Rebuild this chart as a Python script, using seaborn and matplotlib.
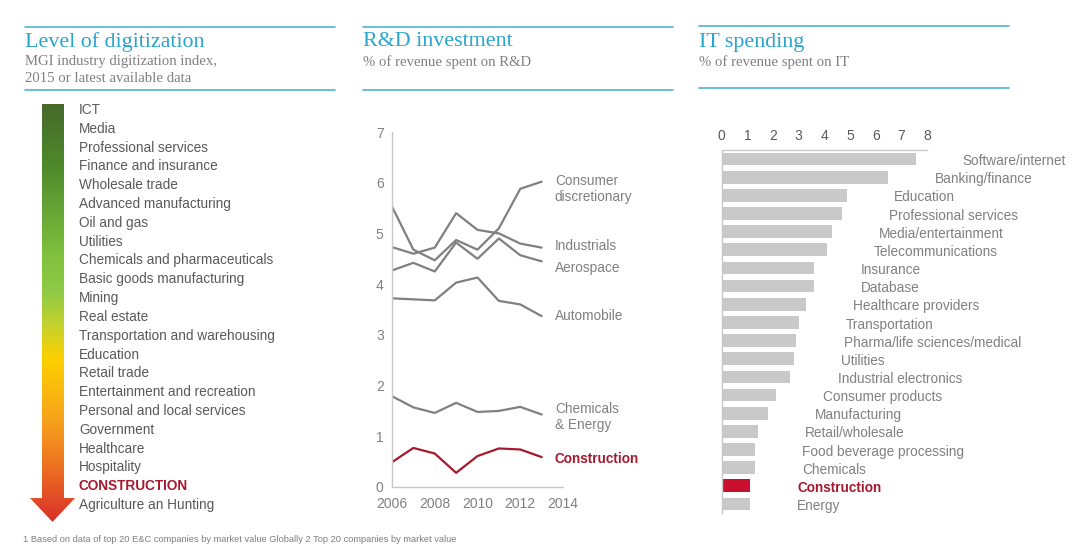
import numpy as np
import pandas as pd
import seaborn as sns
import matplotlib.pyplot as plt
from matplotlib.colors import LinearSegmentedColormap
from matplotlib.patches import Polygon
from matplotlib.lines import Line2D

# --- data ---
industries = ["ICT", "Media", "Professional services", "Finance and insurance",
              "Wholesale trade", "Advanced manufacturing", "Oil and gas", "Utilities",
              "Chemicals and pharmaceuticals", "Basic goods manufacturing", "Mining",
              "Real estate", "Transportation and warehousing", "Education", "Retail trade",
              "Entertainment and recreation", "Personal and local services", "Government",
              "Healthcare", "Hospitality", "CONSTRUCTION", "Agriculture an Hunting"]

years = [2006, 2007, 2008, 2009, 2010, 2011, 2012, 2013]
consumer = [5.53, 4.68, 4.47, 4.87, 4.68, 5.10, 5.88, 6.02]
industrials = [4.73, 4.60, 4.72, 5.40, 5.07, 5.00, 4.80, 4.72]
aerospace = [4.27, 4.42, 4.25, 4.82, 4.50, 4.90, 4.57, 4.45]
automobile = [3.72, 3.70, 3.68, 4.03, 4.13, 3.67, 3.60, 3.37]
chem_energy = [1.79, 1.57, 1.46, 1.66, 1.48, 1.50, 1.58, 1.43]
construction = [0.49, 0.77, 0.66, 0.28, 0.61, 0.76, 0.74, 0.59]
rd_names = ["Consumer\ndiscretionary", "Industrials", "Aerospace", "Automobile",
            "Chemicals\n& Energy", "Construction"]

it_sectors = ["Software/internet", "Banking/finance", "Education", "Professional services",
              "Media/entertainment", "Telecommunications", "Insurance", "Database",
              "Healthcare providers", "Transportation", "Pharma/life sciences/medical",
              "Utilities", "Industrial electronics", "Consumer products", "Manufacturing",
              "Retail/wholesale", "Food beverage processing", "Chemicals", "Construction",
              "Energy"]
it_values = [7.56, 6.47, 4.88, 4.67, 4.29, 4.10, 3.59, 3.58, 3.29, 3.00, 2.91, 2.80,
             2.68, 2.10, 1.80, 1.40, 1.30, 1.30, 1.10, 1.10]

# --- style ---
sns.set_theme(style="white")
plt.rcParams['font.family'] = ['Liberation Sans', 'DejaVu Sans']
GREY_TXT = "#595959"
GREY_LINE = "#808080"
RED = "#a6192e"
BLUE = "#2aa6cc"
RULE = "#4db3d3"
SERIF = ['Liberation Serif', 'DejaVu Serif']

W, H = 1080, 548
fig = plt.figure(figsize=(W / 100, H / 100), dpi=100)


def px_axes(x0, y0, x1, y1):
    return fig.add_axes([x0 / W, 1 - y1 / H, (x1 - x0) / W, (y1 - y0) / H])


def header(x0, x1, y_top, y_bot, title, subtitle):
    for y in (y_top, y_bot):
        fig.add_artist(Line2D([x0 / W, x1 / W], [1 - y / H, 1 - y / H],
                              color=RULE, lw=1.2, transform=fig.transFigure))
    fig.text(x0 / W, 1 - 42 / H, title, family=SERIF, fontsize=15.8, color=BLUE,
             va='center')
    fig.text(x0 / W, 1 - 55 / H, subtitle, family=SERIF, fontsize=10.6, color="#808080",
             va='top', linespacing=1.45)


header(25, 335, 27, 90, "Level of digitization",
       "MGI industry digitization index,\n2015 or latest available data")
header(363, 673, 27, 90, "R&D investment", "% of revenue spent on R&D")
header(699, 1009, 26, 88, "IT spending", "% of revenue spent on IT")

# --- left panel: gradient arrow + ranking ---
ax0 = px_axes(20, 95, 340, 530)
step = 18.81
ylim = ((530 - 110) / step, (95 - 110) / step)
cmap = LinearSegmentedColormap.from_list("dig", [
    (0.0, "#46692a"), (0.15, "#4f8a2c"), (0.35, "#7dbf3d"), (0.45, "#8fcb45"),
    (0.53, "#c5d22c"), (0.61, "#fdd000"), (0.75, "#f7a51c"), (0.87, "#ee7022"),
    (1.0, "#d8302a")])
top_i, neck_i, tip_i = -0.32, 20.63, 21.9
im = ax0.imshow(np.linspace(0, 1, 256).reshape(-1, 1), cmap=cmap, aspect='auto',
                extent=(30, 75, tip_i, top_i), origin='upper')
arrow = Polygon([(42, top_i), (64, top_i), (64, neck_i), (75, neck_i), (52.5, tip_i),
                 (30, neck_i), (42, neck_i)], closed=True, transform=ax0.transData)
im.set_clip_path(arrow)
ax0.set_xlim(20, 340)
ax0.set_ylim(*ylim)
ax0.axis('off')
for i, name in enumerate(industries):
    hot = name == "CONSTRUCTION"
    ax0.text(79, i, name, va='center', ha='left', fontsize=9.8,
             color=RED if hot else GREY_TXT, fontweight='bold' if hot else 'normal')

# --- middle panel: R&D lines ---
series = [consumer, industrials, aerospace, automobile, chem_energy, construction]
df = pd.DataFrame([(n, y, v) for n, vals in zip(rd_names, series) for y, v in zip(years, vals)],
                  columns=["series", "year", "value"])
pal = {n: (RED if n == "Construction" else GREY_LINE) for n in rd_names}
ax1 = px_axes(392, 132, 563, 487)
sns.lineplot(data=df, x="year", y="value", hue="series", palette=pal, linewidth=1.6,
             legend=False, ax=ax1)
ax1.set_xlim(2006, 2014)
ax1.set_ylim(0, 7)
ax1.set_xticks(range(2006, 2015, 2))
ax1.set_yticks(range(0, 8))
ax1.set_xlabel("")
ax1.set_ylabel("")
for s in ("top", "right"):
    ax1.spines[s].set_visible(False)
for s in ("left", "bottom"):
    ax1.spines[s].set_color("#c8c8c8")
    ax1.spines[s].set_linewidth(1)
ax1.tick_params(length=0, labelsize=10, labelcolor=GREY_LINE)
ax1.tick_params(axis='y', pad=6)
ax1.tick_params(axis='x', pad=7)
label_dy = {"Consumer\ndiscretionary": -5, "Industrials": 1.5, "Aerospace": -5,
            "Automobile": 0, "Chemicals\n& Energy": -2, "Construction": -1.5}
for n, vals in zip(rd_names, series):
    hot = n == "Construction"
    ax1.annotate(n, (years[-1], vals[-1]), xytext=(9.5, label_dy[n]),
                 textcoords='offset points', va='center', ha='left', fontsize=9.8,
                 color=RED if hot else GREY_LINE, fontweight='bold' if hot else 'normal',
                 annotation_clip=False)

# --- right panel: IT spending bars ---
ax2 = px_axes(721.7, 150, 927, 513)
bar_pal = {s: ("#c8102e" if s == "Construction" else "#c9c9c9") for s in it_sectors}
sns.barplot(x=it_values, y=it_sectors, hue=it_sectors, palette=bar_pal, orient='h',
            width=0.7, linewidth=0, legend=False, ax=ax2, saturation=1)
ax2.set_xlim(0, 8)
ax2.set_xticks(range(0, 9))
ax2.xaxis.tick_top()
ax2.set_yticks([])
ax2.set_xlabel("")
ax2.set_ylabel("")
for s in ("bottom", "right"):
    ax2.spines[s].set_visible(False)
for s in ("top", "left"):
    ax2.spines[s].set_color("#c8c8c8")
    ax2.spines[s].set_linewidth(1)
ax2.tick_params(length=0, labelsize=10, labelcolor=GREY_TXT, pad=5)
for i, (s, v) in enumerate(zip(it_sectors, it_values)):
    hot = s == "Construction"
    ax2.annotate(s, (v, i), xytext=(34, -1.5), textcoords='offset points', va='center',
                 ha='left', fontsize=9.8, color=RED if hot else GREY_LINE,
                 fontweight='bold' if hot else 'normal', annotation_clip=False)

fig.text(23 / W, 1 - 539 / H,
         "1 Based on data of top 20 E&C companies by market value Globally 2 Top 20 companies by market value",
         fontsize=6.7, color="#7f7f7f", va='center')

fig.savefig("out.png", dpi=100, facecolor="white")
